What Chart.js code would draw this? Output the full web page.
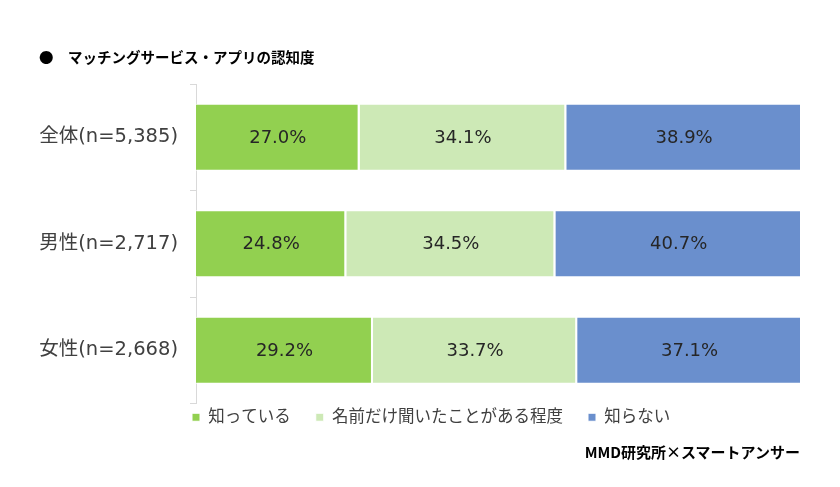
<!DOCTYPE html>
<html lang="ja">
<head>
<meta charset="utf-8">
<title>マッチングサービス・アプリの認知度</title>
<script src="https://cdn.jsdelivr.net/npm/chart.js@4/dist/chart.umd.min.js"></script>
<style>
  body { margin: 0; background: #fff; }
  #wrap { position: relative; width: 840px; height: 487px; font-family: "DejaVu Sans", "Noto Sans CJK JP", sans-serif; }
  #title { position: absolute; left: 39px; top: 46px; font-size: 14.5px; font-weight: bold; color: #000; font-family: "Noto Sans CJK JP", sans-serif; }
  #title .dot { display: inline-block; width: 29px; }
  #source { position: absolute; right: 40px; top: 441px; font-size: 15px; font-weight: bold; color: #000; font-family: "Noto Sans CJK JP", sans-serif; }
  canvas { position: absolute; left: 0; top: 0; }
</style>
</head>
<body>
<div id="wrap">
  <canvas id="chart" width="840" height="487"></canvas>
  <div id="title"><span class="dot">●</span>マッチングサービス・アプリの認知度</div>
  <div id="source">MMD研究所×スマートアンサー</div>
</div>
<script>
const categories = ['全体(n=5,385)', '男性(n=2,717)', '女性(n=2,668)'];
const seriesNames = ['知っている', '名前だけ聞いたことがある程度', '知らない'];
const known = [27.0, 24.8, 29.2];
const heardOnly = [34.1, 34.5, 33.7];
const unknown = [38.9, 40.7, 37.1];
const colors = ['#92d050', '#cde9b6', '#6a8fcd'];

const font = '"DejaVu Sans", "Noto Sans CJK JP", sans-serif';

// draws the value in the middle of every segment
const valueLabels = {
    id: 'valueLabels',
    afterDatasetsDraw(chart) {
        const ctx = chart.ctx;
        ctx.save();
        ctx.font = '18px ' + font;
        ctx.fillStyle = '#262626';
        ctx.textAlign = 'center';
        ctx.textBaseline = 'middle';
        chart.data.datasets.forEach((ds, i) => {
            chart.getDatasetMeta(i).data.forEach((bar, j) => {
                const p = bar.getCenterPoint();
                ctx.fillText(ds.data[j].toFixed(1) + '%', p.x, p.y + 1);
            });
        });
        ctx.restore();
    }
};

// move the legend under the bars, starting at the axis
const legendShift = {
    id: 'legendShift',
    afterLayout(chart) {
        chart.legend.left = 167;
        chart.legend.top = 384;
    }
};

new Chart(document.getElementById('chart'), {
    type: 'bar',
    data: {
        labels: categories,
        datasets: [
            { label: seriesNames[0], data: known, backgroundColor: colors[0] },
            { label: seriesNames[1], data: heardOnly, backgroundColor: colors[1] },
            { label: seriesNames[2], data: unknown, backgroundColor: colors[2] }
        ]
    },
    options: {
        indexAxis: 'y',
        responsive: false,
        animation: false,
        layout: { padding: { top: 84, right: 38, left: 10, bottom: 32 } },
        datasets: {
            bar: {
                categoryPercentage: 1,
                barPercentage: 0.63,
                borderColor: '#ffffff',
                borderWidth: { top: 1, bottom: 1, left: 0, right: 2 },
                borderSkipped: false
            }
        },
        scales: {
            x: { stacked: true, min: 0, max: 100, display: false },
            y: {
                stacked: true,
                afterFit(scale) { scale.width = 186; },
                grid: { drawOnChartArea: false, drawTicks: true, tickLength: 6, color: '#d9d9d9' },
                border: { color: '#d9d9d9' },
                ticks: { padding: 12, color: '#404040', font: { family: font, size: 19.5 } }
            }
        },
        plugins: {
            legend: {
                position: 'bottom',
                align: 'start',
                labels: { boxWidth: 8, boxHeight: 8, padding: 25, color: '#404040', font: { family: font, size: 16.5 } }
            },
            tooltip: { enabled: false }
        }
    },
    plugins: [valueLabels, legendShift]
});
</script>
</body>
</html>
